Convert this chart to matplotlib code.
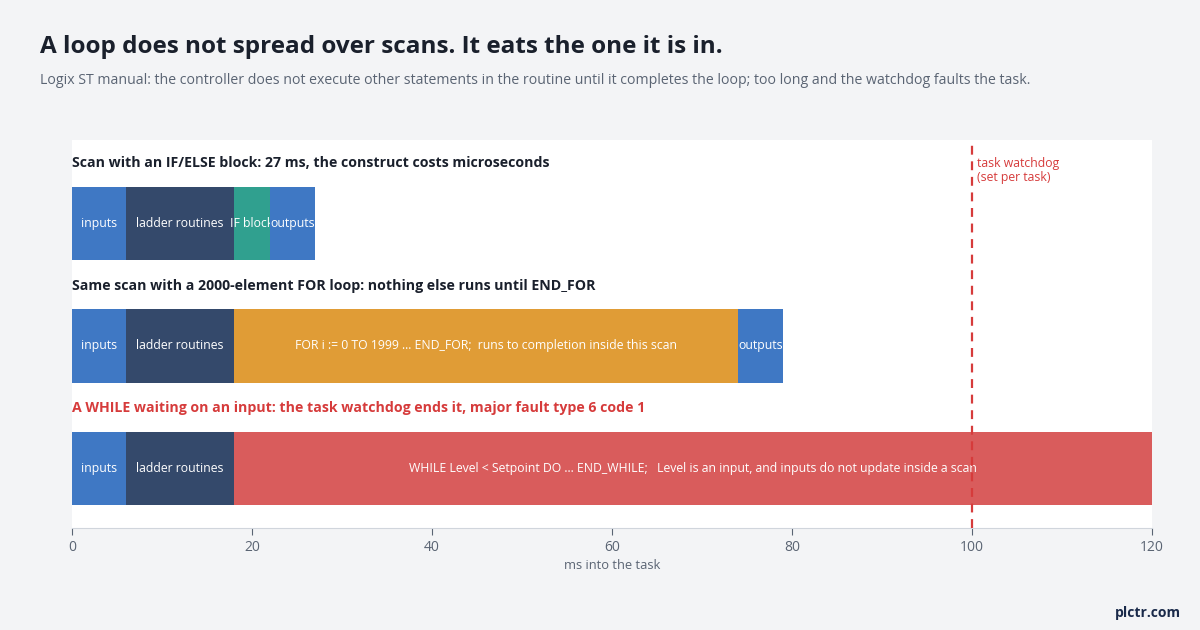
import matplotlib.pyplot as plt

plt.rcParams['font.family'] = ['Open Sans', 'DejaVu Sans']

# scan rows, top to bottom
row_titles = [
    "Scan with an IF/ELSE block: 27 ms, the construct costs microseconds",
    "Same scan with a 2000-element FOR loop: nothing else runs until END_FOR",
    "A WHILE waiting on an input: the task watchdog ends it, major fault type 6 code 1",
]
row_title_colors = ["#1a202c", "#1a202c", "#d63b3b"]

# segments per row: (label, start ms, duration ms, colour)
seg_labels = [
    ["inputs", "ladder routines", "IF block", "outputs"],
    ["inputs", "ladder routines", "FOR i := 0 TO 1999 ... END_FOR;  runs to completion inside this scan", "outputs"],
    ["inputs", "ladder routines", "WHILE Level < Setpoint DO ... END_WHILE;   Level is an input, and inputs do not update inside a scan"],
]
seg_start = [
    [0, 6, 18, 22],
    [0, 6, 18, 74],
    [0, 6, 18],
]
seg_dur = [
    [6, 12, 4, 5],
    [6, 12, 56, 5],
    [6, 12, 102],
]
seg_colors = [
    ["#3f78c4", "#34496b", "#30a08f", "#3f78c4"],
    ["#3f78c4", "#34496b", "#e09c36", "#3f78c4"],
    ["#3f78c4", "#34496b", "#d95c5c"],
]

watchdog_ms = 100
x_max = 120
x_ticks = [0, 20, 40, 60, 80, 100, 120]

fig = plt.figure(figsize=(12, 6.3), dpi=100, facecolor="#f3f4f6")
ax = fig.add_axes([0.06, 0.1619, 0.90, 0.6159])
ax.set_facecolor("white")

z = 2
for r in range(len(row_titles)):
    for lab, s, d, c in zip(seg_labels[r], seg_start[r], seg_dur[r], seg_colors[r]):
        ax.barh(r, d, left=s, height=0.6, color=c, zorder=z)
        ax.text(s + d / 2, r, lab, ha="center", va="center", color="white",
                fontsize=8.8, zorder=z + 1, clip_on=True)
        z += 2
    ax.text(0, r - 0.49, row_titles[r], ha="left", va="center", fontsize=10.2,
            fontweight="bold", color=row_title_colors[r])

ax.axvline(watchdog_ms, color="#d63b3b", linestyle=(0, (4, 3)), linewidth=1.6, zorder=100)
ax.text(watchdog_ms + 0.6, -0.43, "task watchdog\n(set per task)", ha="left", va="center",
        fontsize=8.8, color="#d63b3b", linespacing=1.15)

ax.set_xlim(0, x_max)
ax.set_ylim(2.486, -0.68)
ax.set_yticks([])
ax.set_xticks(x_ticks)
ax.tick_params(axis="x", colors="#5a6473", labelsize=10, length=5, color="#5a6473")
for sp in ["top", "right", "left"]:
    ax.spines[sp].set_visible(False)
ax.spines["bottom"].set_color("#d0d5dc")
ax.set_xlabel("ms into the task", fontsize=9.3, color="#5a6473", labelpad=3)

fig.text(40 / 1200, 1 - 47 / 630, "A loop does not spread over scans. It eats the one it is in.",
         fontsize=17.5, fontweight="bold", color="#1a202c", va="center", ha="left")
fig.text(40 / 1200, 1 - 80 / 630,
         "Logix ST manual: the controller does not execute other statements in the routine until it completes the loop; too long and the watchdog faults the task.",
         fontsize=10.15, color="#5a6473", va="center", ha="left")
fig.text(1181 / 1200, 1 - 613 / 630, "plctr.com", fontsize=10, fontweight="bold",
         color="#1a2a4a", va="center", ha="right")

fig.savefig("out.png", dpi=100, facecolor=fig.get_facecolor())
